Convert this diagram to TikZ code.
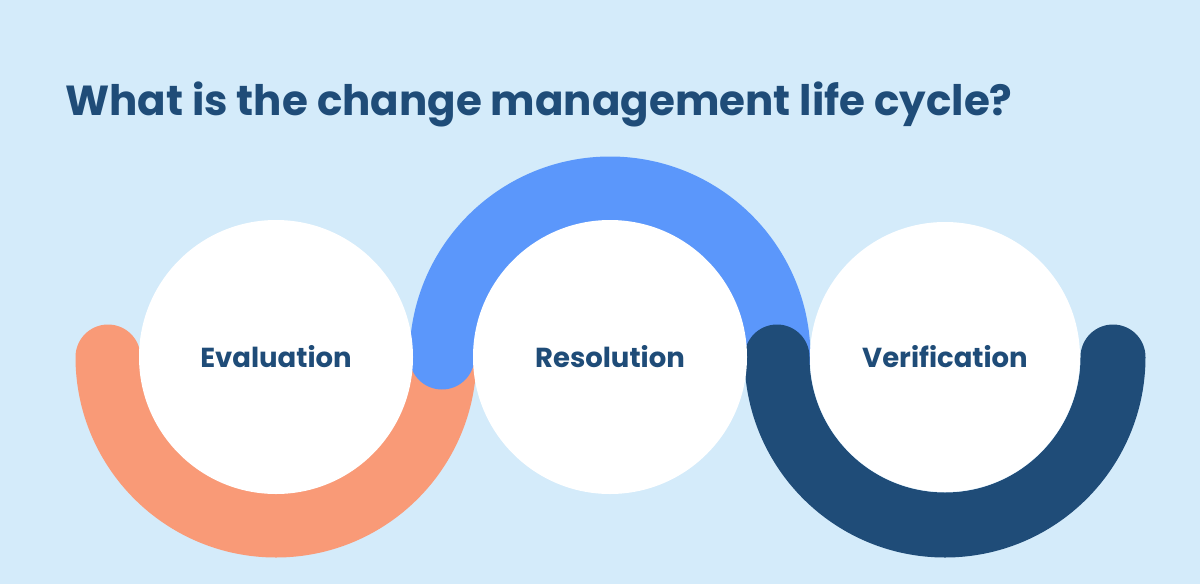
\documentclass[tikz,border=0pt]{standalone}
\usepackage{fontspec}
\setmainfont{Poppins}
\definecolor{bg}{HTML}{D4EBFA}
\definecolor{orng}{HTML}{F99A77}
\definecolor{lblue}{HTML}{5B97FB}
\definecolor{dblue}{HTML}{1F4C78}
\begin{document}
\begin{tikzpicture}[x=1pt,y=-1pt,
  band/.style={line width=65pt,line cap=round},
  disc/.style={circle,fill=white,minimum size=274pt,inner sep=0pt,font=\fontsize{27.5}{32}\selectfont\bfseries,text=dblue}]
\fill[bg] (0,0) rectangle (1200,584);
\useasboundingbox (0,0) rectangle (1200,584);
\node[anchor=base west,text=dblue,font=\fontsize{42}{50}\selectfont\bfseries,inner sep=0pt] (title) at (65,115) {What is the change management life cycle?};
\coordinate (c1) at (276,357);
\coordinate (c2) at (610,357);
\coordinate (c3) at (945,357);
\draw[band,orng] ([xshift=-168pt]c1) arc[start angle=180,end angle=360,x radius=168pt,y radius=168pt];
\draw[band,lblue] ([xshift=-168pt]c2) arc[start angle=180,end angle=0,x radius=168pt,y radius=168pt];
\draw[band,dblue] ([xshift=-168pt]c3) arc[start angle=180,end angle=360,x radius=168pt,y radius=168pt];
\node[disc] (n1) at (c1) {Evaluation};
\node[disc] (n2) at (c2) {Resolution};
\node[disc,minimum size=270pt] (n3) at (c3) {Verification};
\end{tikzpicture}
\end{document}
